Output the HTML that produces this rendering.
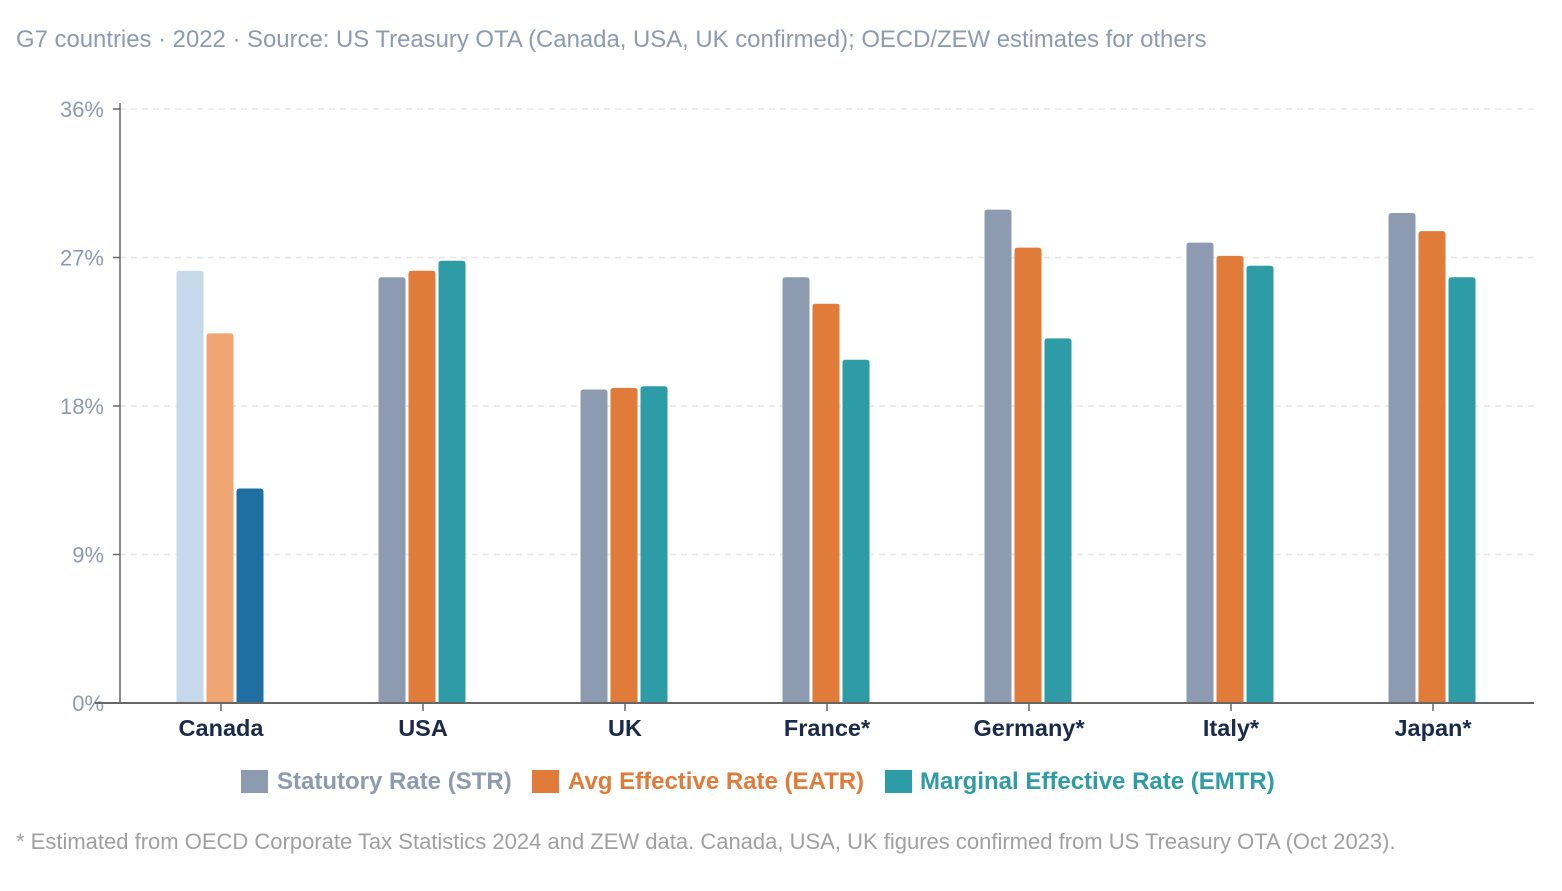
<!DOCTYPE html>
<html><head><meta charset="utf-8"><style>
body{margin:0;background:#fff;font-family:"Liberation Sans",Arial,sans-serif;}
svg text{font-family:"Liberation Sans",Arial,sans-serif;}
</style></head><body>
<svg id="chart" width="1562" height="886" xmlns="http://www.w3.org/2000/svg">
<text x="16" y="47" font-size="23.9" fill="#8c9bb0">G7 countries · 2022 · Source: US Treasury OTA (Canada, USA, UK confirmed); OECD/ZEW estimates for others</text>
<g id="grid"></g><g id="bars"></g><g id="axes"></g>
<g>
<rect x="241" y="770" width="27" height="23" fill="#8c9bb0"/>
<text x="277" y="789" font-size="24" font-weight="bold" fill="#8c9bb0">Statutory Rate (STR)</text>
<rect x="532" y="770" width="27" height="23" fill="#e07b39"/>
<text x="568" y="789" font-size="24" font-weight="bold" fill="#e07b39">Avg Effective Rate (EATR)</text>
<rect x="885" y="770" width="27" height="23" fill="#2e9ca6"/>
<text x="920" y="789" font-size="24" font-weight="bold" fill="#2e9ca6">Marginal Effective Rate (EMTR)</text>
</g>
<text x="16" y="849" font-size="22" fill="#a0a0a0">* Estimated from OECD Corporate Tax Statistics 2024 and ZEW data. Canada, USA, UK figures confirmed from US Treasury OTA (Oct 2023).</text>
</svg>
<script>
const categories=["Canada","USA","UK","France*","Germany*","Italy*","Japan*"];
const strValues=[26.2,25.8,19.0,25.8,29.9,27.9,29.7];
const eatrValues=[22.4,26.2,19.1,24.2,27.6,27.1,28.6];
const emtrValues=[13.0,26.8,19.2,20.8,22.1,26.5,25.8];
const yTicks=[0,9,18,27,36];
const yTickLabels=["0%","9%","18%","27%","36%"];
const NS="http://www.w3.org/2000/svg";
const x0=120,x1=1534,yBase=703,yTop=109,yMax=36;
const band=(x1-x0)/categories.length;
function y(v){return yBase-(v/yMax)*(yBase-yTop);}
function xc(i){return x0+band*(i+0.5);}
function mk(t,a,p){const e=document.createElementNS(NS,t);for(const k in a)e.setAttribute(k,a[k]);p.appendChild(e);return e;}
const grid=document.getElementById('grid'),bars=document.getElementById('bars'),axes=document.getElementById('axes');
yTicks.forEach((t,i)=>{
 if(t>0){const l=mk('line',{x1:x0,x2:x1,y1:y(t),y2:y(t),stroke:'#e6e6e6','stroke-dasharray':'6,5','stroke-width':1.5},grid);
 
 }
 const tk=mk('line',{x1:x0-7,x2:x0,y1:y(t),y2:y(t),stroke:'#666','stroke-width':1.5},axes);
 
 
 const tx=mk('text',{x:x0-16,y:y(t)+8,'text-anchor':'end','font-size':22,fill:'#8c9bb0'},axes);tx.textContent=yTickLabels[i];
 
 
});
const series=[strValues,eatrValues,emtrValues];
const colors=[["#c6d9ea","#f0a672","#1f6fa3"],["#8c9bb0","#e07b39","#2e9ca6"]];
const names=["str","eatr","emtr"];
const bw=27,gap=3;
categories.forEach((c,i)=>{
 series.forEach((s,j)=>{
  const bx=xc(i)-bw*1.5-gap+j*(bw+gap)-1,by=y(s[i]);
  const col=(i===0?colors[0]:colors[1])[j];
  const p=mk('path',{d:`M${bx},${yBase+1}V${by+3}Q${bx},${by} ${bx+3},${by}H${bx+bw-3}Q${bx+bw},${by} ${bx+bw},${by+3}V${yBase+1}Z`,fill:col},bars);
  
  
 });
 const tk=mk('line',{x1:xc(i),x2:xc(i),y1:yBase,y2:yBase+8,stroke:'#666','stroke-width':1.5},axes);
 
 
 const tx=mk('text',{x:xc(i),y:yBase+33,'text-anchor':'middle','font-size':23.5,'font-weight':'bold',fill:'#1a2a4a'},axes);tx.textContent=c;
 
 
});
const ya=mk('line',{x1:x0,x2:x0,y1:yTop-6,y2:yBase,stroke:'#666','stroke-width':1.5},axes);


const xa=mk('line',{x1:x0-25,x2:x1,y1:yBase,y2:yBase,stroke:'#666','stroke-width':2},axes);


</script>
</body></html>
